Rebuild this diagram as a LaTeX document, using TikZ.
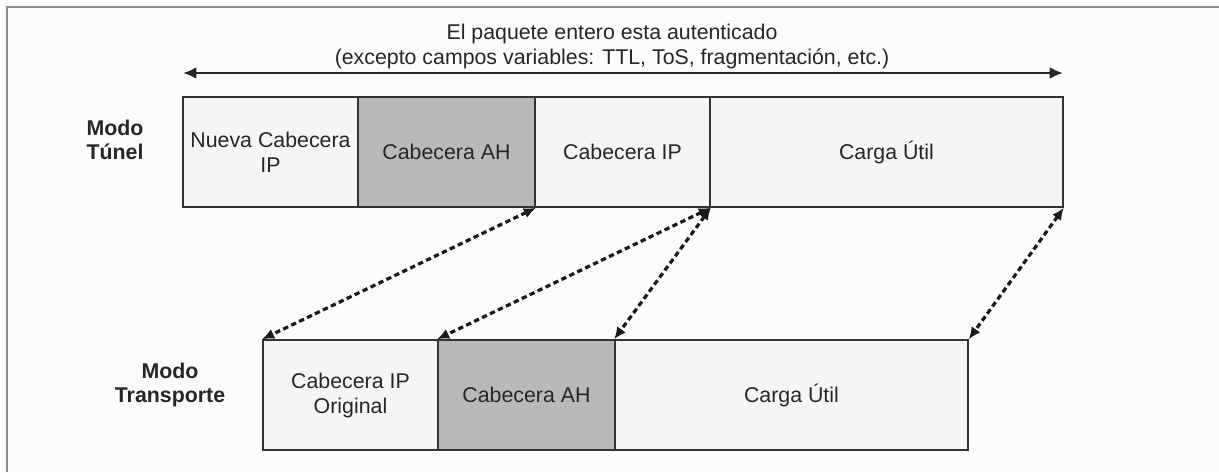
\documentclass[tikz,border=0pt]{standalone}
\usepackage{fontspec}
\setmainfont{Liberation Sans}
\usetikzlibrary{arrows.meta,fit}
\definecolor{lightbox}{HTML}{F5F5F5}
\definecolor{darkbox}{HTML}{B9B9B9}
\definecolor{framegray}{HTML}{8C8C8C}
\definecolor{edge}{HTML}{333333}
\begin{document}
\begin{tikzpicture}[x=0.75pt,y=-0.75pt,
  txt/.style={font=\fontsize{16}{18.75}\selectfont, align=center, text=black!85, inner sep=0pt},
  field/.style={draw=edge, line width=1.2pt, inner sep=0pt, fit={#1}},
  lfield/.style={field={#1}, fill=lightbox},
  dfield/.style={field={#1}, fill=darkbox},
  modelabel/.style={font=\fontsize{16}{18}\selectfont\bfseries, align=center, text=black!85},
  dasharrow/.style={line width=2.4pt, dash pattern=on 4pt off 2.6pt, draw=black!90,
     {Latex[length=9pt,width=8pt]}-{Latex[length=9pt,width=8pt]}},
  solidarrow/.style={line width=2.2pt, draw=black!85,
     {Latex[length=10pt,width=9pt]}-{Latex[length=10pt,width=9pt]}}]
\useasboundingbox (0,0) rectangle (1219,472);
\fill[white!99!black] (0,0) rectangle (1219,472);
\draw[framegray, line width=1.6pt] (7,472) -- (7,7) -- (1219,7);

% title
\node[txt] (title) at (612,46.5) {El paquete entero esta autenticado\\(excepto campos variables: TTL, ToS, fragmentación, etc.)};
\coordinate (aL) at (183,73);
\coordinate (aR) at (1063,73);
\draw[solidarrow] (aL) -- (aR);

% tunnel mode
\node[modelabel] (tun) at (115,140) {Modo\\Túnel};
\node[lfield={(183,97)(358,207)}] (T1) {};
\node[dfield={(358,97)(535,207)}] (T2) {};
\node[lfield={(535,97)(710,207)}] (T3) {};
\node[lfield={(710,97)(1063,207)}] (T4) {};
\node[txt] (t1) at (T1.center) {Nueva Cabecera\\IP};
\node[txt] (t2) at (T2.center) {Cabecera AH};
\node[txt] (t3) at (T3.center) {Cabecera IP};
\node[txt] (t4) at (T4.center) {Carga Útil};

% transport mode
\node[modelabel] (tra) at (170,385) {Modo\\Transporte};
\node[lfield={(263,340)(438,450)}] (B1) {};
\node[dfield={(438,340)(615,450)}] (B2) {};
\node[lfield={(615,340)(968,450)}] (B3) {};
\node[txt] (b1) at (B1.center) {Cabecera IP\\Original};
\node[txt] (b2) at (B2.center) {Cabecera AH};
\node[txt] (b3) at (B3.center) {Carga Útil};

% mapping arrows
\draw[dasharrow] (T2.south east) -- (B1.north west);
\draw[dasharrow] (T3.south east) -- (B2.north west);
\draw[dasharrow] (T3.south east) -- (B3.north west);
\draw[dasharrow] (T4.south east) -- (B3.north east);
\end{tikzpicture}
\end{document}
